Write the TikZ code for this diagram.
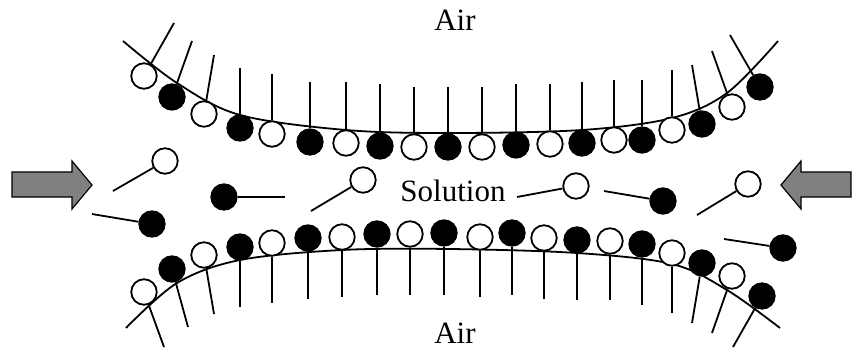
\documentclass[tikz,border=0pt]{standalone}
\usepackage{fontspec}
\setmainfont{Liberation Serif}
\begin{document}
\begin{tikzpicture}[x=1pt,y=-1pt,
  film/.style={line width=1.8pt},
  tail/.style={line width=1.8pt},
  hollow/.style={circle,draw,line width=1.8pt,fill=white,minimum size=25.5pt,inner sep=0pt},
  dark/.style={circle,draw,line width=1.8pt,fill=black,minimum size=25.5pt,inner sep=0pt},
  push/.style={draw,line width=1.2pt,fill=black!50},
  label/.style={anchor=base,inner sep=0pt,font=\fontsize{31}{35}\selectfont}]
\useasboundingbox (0,0) rectangle (852,349);

% upper air/solution interface
\draw[film] plot[smooth,tension=0.55] coordinates {(123,41) (177,83) (240,115) (346,130) (450,133) (582,130) (672,118) (727,93) (778,41)};
% lower solution/air interface
\draw[film] plot[smooth,tension=0.55] coordinates {(126,328) (177,283) (240,260) (342,250) (450,249) (577,253) (672,264) (727,290) (780,328)};

% upper monolayer: heads in the solution, tails in the air
\foreach \x/\y/\f/\tx/\ty [count=\i] in {
  144/76/hollow/174/23, 172/97/dark/192/41, 204/114/hollow/214/55,
  240/128/dark/240/68, 272/134/hollow/272/74, 310/142/dark/310/82,
  346/143/hollow/346/82, 380/146/dark/380/84, 414/147/hollow/414/87,
  448/147/dark/448/87, 482/147/hollow/482/87, 516/145/dark/516/84,
  550/144/hollow/550/84, 582/143/dark/582/82, 614/140/hollow/614/80,
  642/140/dark/642/80, 672/130/hollow/672/70, 702/124/dark/692/65,
  732/107/hollow/712/51, 760/87/dark/730/35} {
  \node[\f] (u\i) at (\x,\y) {};
  \coordinate (ue\i) at (\tx,\ty);
  \draw[tail] (u\i) -- (ue\i);
}

% lower monolayer
\foreach \x/\y/\f/\tx/\ty [count=\i] in {
  144/292/hollow/164/347, 172/269/dark/188/327, 204/255/hollow/214/314,
  240/247/dark/240/307, 272/243/hollow/272/303, 308/238/dark/308/299,
  342/237/hollow/342/297, 377/234/dark/377/295, 410/234/hollow/410/295,
  444/233/dark/444/295, 480/237/hollow/480/297, 512/233/dark/512/295,
  544/238/hollow/544/299, 577/240/dark/577/300, 610/241/hollow/610/300,
  642/244/dark/642/305, 672/253/hollow/672/313, 702/263/dark/692/323,
  732/276/hollow/712/333, 762/296/dark/733/347} {
  \node[\f] (l\i) at (\x,\y) {};
  \coordinate (le\i) at (\tx,\ty);
  \draw[tail] (l\i) -- (le\i);
}

% free molecules in the solution
\foreach \x/\y/\f/\tx/\ty [count=\i] in {
  165/161/hollow/113/191, 152/224/dark/92/214, 224/197/dark/285/197,
  363/180/hollow/311/211, 576/186/hollow/517/197, 663/201/dark/604/191,
  748/184/hollow/697/215, 783/248/dark/724/239} {
  \node[\f] (f\i) at (\x,\y) {};
  \coordinate (fe\i) at (\tx,\ty);
  \draw[tail] (f\i) -- (fe\i);
}

% compression arrows
\draw[push] (12,172) -- (72,172) -- (72,161) -- (92,185) -- (72,209) -- (72,197) -- (12,197) -- cycle;
\draw[push] (851,172) -- (801,172) -- (801,161) -- (781,185) -- (801,209) -- (801,197) -- (851,197) -- cycle;

% labels
\node[label] (airtop) at (455,30) {Air};
\node[label] (airbot) at (455,343) {Air};
\node[label] (sol) at (453,201) {Solution};
\end{tikzpicture}
\end{document}
